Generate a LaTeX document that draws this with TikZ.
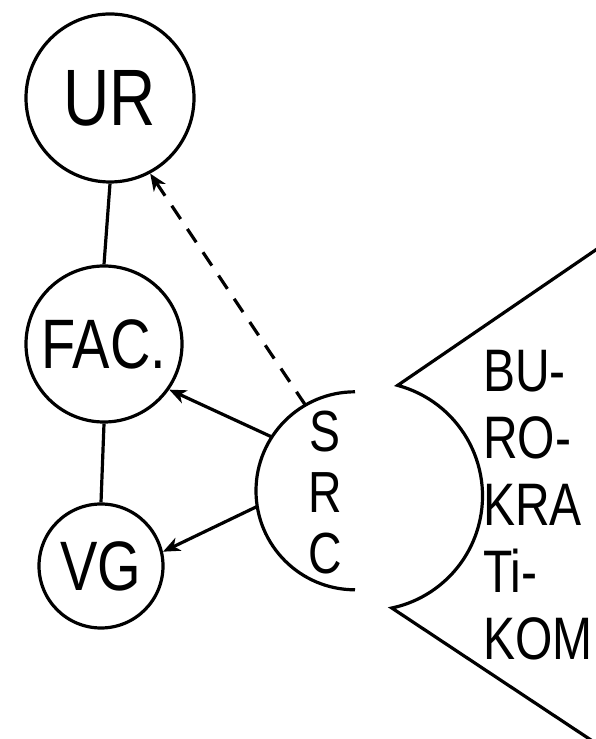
\documentclass[tikz,border=0pt]{standalone}
\usepackage{fontspec}
\setmainfont[FakeStretch=0.8]{Liberation Sans}
\usetikzlibrary{arrows.meta}
\begin{document}
\begin{tikzpicture}[x=1pt,y=1pt,
   ring/.style={draw,circle,line width=3.2pt,inner sep=0pt},
   link/.style={line width=3.2pt},
   pointer/.style={line width=3.2pt,-{Stealth[length=17pt,width=14pt,inset=5pt]}}]
   \useasboundingbox (0,0) rectangle (595,739);

   \node[ring,minimum size=168pt,font=\fontsize{80}{80}\selectfont] (ur) at (110,641) {UR};
   \node[ring,minimum size=156pt,font=\fontsize{70}{70}\selectfont] (fac) at (104,395) {FAC.};
   \node[ring,minimum size=124pt,font=\fontsize{70}{70}\selectfont] (vg) at (101,173) {VG};

   \draw[link] (ur.south) -- (fac.north);
   \draw[link] (fac.south) -- (vg.north);

   % half circle
   \node[circle,minimum size=198pt,inner sep=0pt] (src) at (355,248) {};
   \draw[link] (src.north) arc[start angle=90,end angle=270,radius=99];
   \node[align=center,font=\fontsize{58}{61}\selectfont] (srctext) at (325,246) {S\\R\\C};

   \draw[pointer,dash pattern=on 16pt off 12pt] (src.120) -- (ur.-62);
   \draw[pointer] (src.147) -- (fac.-35);
   \draw[pointer] (src.189) -- (vg.13);

   % the big open jaw
   \coordinate (jaw) at (368,243);
   \coordinate (jawtop) at (600,492);
   \coordinate (jawbot) at (600,-7);
   \draw[link,line join=miter] (jawtop) -- ([shift={(75:114.5)}]jaw)
      arc[start angle=75,end angle=-78,radius=114.5] -- (jawbot);
   \node[align=left,anchor=west,inner sep=0pt,font=\fontsize{60}{67}\selectfont] (buro) at (483,234)
      {BU-\\RO-\\KRA\\Ti-\\KOM};
\end{tikzpicture}
\end{document}
